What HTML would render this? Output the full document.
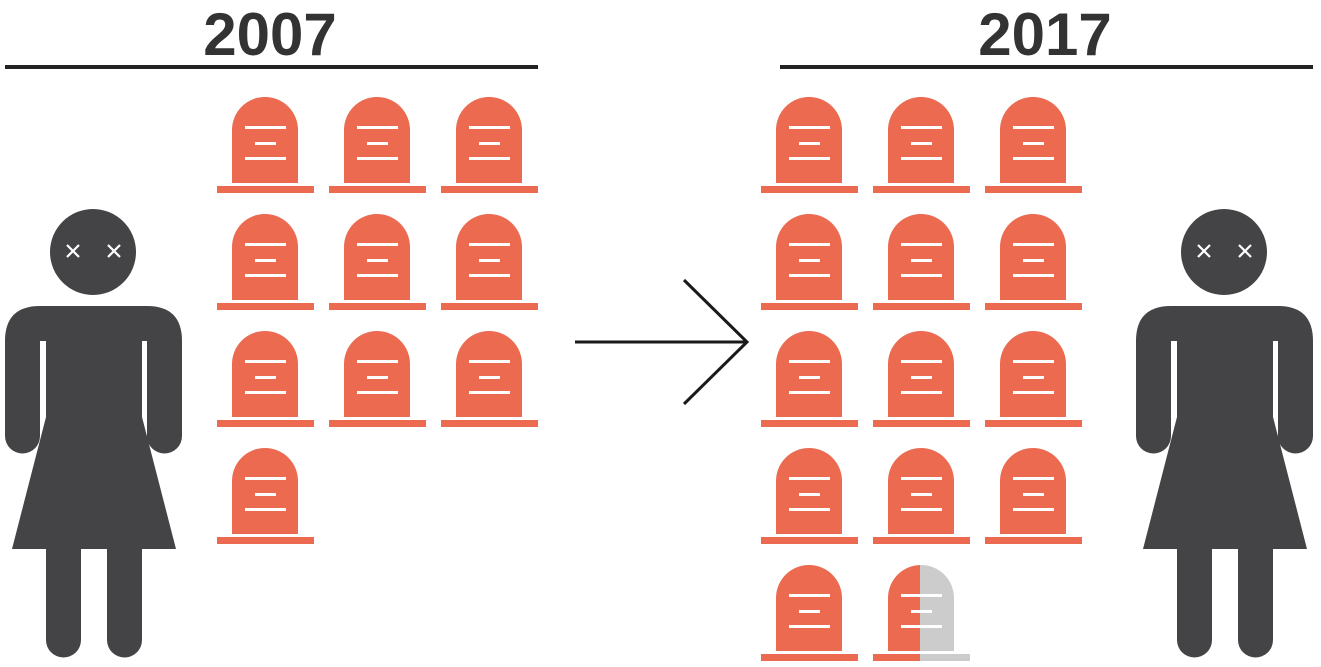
<!DOCTYPE html>
<html><head><meta charset="utf-8"><style>
html,body{margin:0;padding:0;background:#fff;width:1321px;height:667px;overflow:hidden}
</style></head><body>
<svg width="1321" height="667" viewBox="0 0 1321 667" xmlns="http://www.w3.org/2000/svg">
<defs>
<g id="t">
<path d="M0 86 V33 A33 33 0 0 1 66 33 V86 Z"/>
<rect x="-15" y="89" width="97" height="7"/>
<g fill="#fff"><rect x="13" y="29" width="41" height="3"/><rect x="23" y="45" width="21" height="3"/><rect x="13" y="60" width="41" height="3"/></g>
</g>
<g id="w" fill="#444446">
<circle cx="93" cy="252" r="43"/>
<path d="M5 341 Q5 306 40 306 H147 Q182 306 182 341 V436 A17.5 17.5 0 0 1 147 436 V341 H142 V417 L176 549 H142 V640 A17.5 17.5 0 0 1 107 640 V549 H81 V640 A17.5 17.5 0 0 1 46 640 V549 H12 L46 417 V341 H40 V436 A17.5 17.5 0 0 1 5 436 Z"/>
<g stroke="#fff" stroke-width="2.2"><path d="M67 245 L79 257 M79 245 L67 257 M108 245 L120 257 M120 245 L108 257"/></g>
</g>
<clipPath id="lh"><rect x="850" y="550" width="70" height="120"/></clipPath>
<clipPath id="rh"><rect x="920" y="550" width="70" height="120"/></clipPath>
</defs>
<g font-family="Liberation Sans, sans-serif" font-weight="bold" font-size="60" fill="#333" text-anchor="middle">
<text x="270" y="55">2007</text><text x="1045" y="55">2017</text></g>
<rect x="5" y="65" width="533" height="4" fill="#222"/>
<rect x="780" y="65" width="533" height="4" fill="#222"/>
<use href="#w"/>
<use href="#w" transform="translate(1131 0)"/>
<g fill="#EC6A50">
<use href="#t" transform="translate(232 97)"/><use href="#t" transform="translate(344 97)"/><use href="#t" transform="translate(456 97)"/>
<use href="#t" transform="translate(232 214)"/><use href="#t" transform="translate(344 214)"/><use href="#t" transform="translate(456 214)"/>
<use href="#t" transform="translate(232 331)"/><use href="#t" transform="translate(344 331)"/><use href="#t" transform="translate(456 331)"/>
<use href="#t" transform="translate(232 448)"/>
<use href="#t" transform="translate(776 97)"/><use href="#t" transform="translate(888 97)"/><use href="#t" transform="translate(1000 97)"/>
<use href="#t" transform="translate(776 214)"/><use href="#t" transform="translate(888 214)"/><use href="#t" transform="translate(1000 214)"/>
<use href="#t" transform="translate(776 331)"/><use href="#t" transform="translate(888 331)"/><use href="#t" transform="translate(1000 331)"/>
<use href="#t" transform="translate(776 448)"/><use href="#t" transform="translate(888 448)"/><use href="#t" transform="translate(1000 448)"/>
<use href="#t" transform="translate(776 565)"/>
<g clip-path="url(#lh)"><use href="#t" transform="translate(888 565)"/></g>
</g>
<g fill="#CCCCCC" clip-path="url(#rh)"><use href="#t" transform="translate(888 565)"/></g>
<g stroke="#1a1a1a" stroke-width="3" fill="none"><path d="M575 342 H747 M684 280 L747 342 L684 404"/></g>
</svg>
</body></html>
